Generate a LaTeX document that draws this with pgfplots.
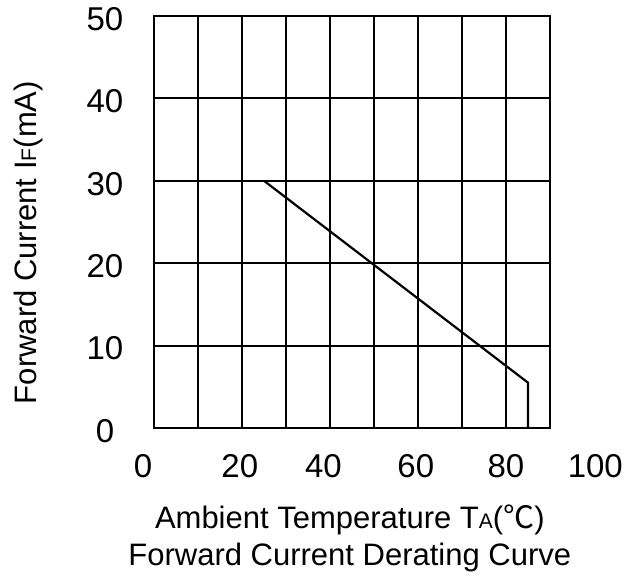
\documentclass[border=0pt]{standalone}
\usepackage{pgfplots}
\pgfplotsset{compat=1.18}
\usepackage{fontspec}
\setmainfont{Liberation Sans}
\newfontfamily\cjk{Noto Sans CJK SC}
\newcommand{\tickfont}{\fontsize{33}{33}\selectfont}
\newcommand{\labfont}{\fontsize{31}{34}\selectfont}
\newcommand{\smallc}[1]{{\fontsize{21}{21}\selectfont #1}}
\begin{document}
\begin{tikzpicture}
\begin{axis}[
  scale only axis,
  width=396pt, height=412pt,
  xmin=0, xmax=90,
  ymin=0, ymax=50,
  xtick={0,10,...,90},
  ytick={0,10,...,50},
  xticklabels={},
  grid=major,
  grid style={line width=1.9pt, draw=black},
  axis line style={line width=2.6pt},
  major tick length=0pt,
  /pgf/number format/assume math mode=true,
  yticklabel style={font=\tickfont, anchor=center, xshift=-49pt, yshift=-3pt},
  clip=false,
]
  \addplot [black, line width=2.2pt, mark=none] coordinates {
    (25, 30)
    (85, 5.5)
    (85, 0)
  };
  % x tick labels (100 lies beyond the right edge of the frame)
  \node[font=\tickfont] at (axis cs:-2.5,0) [yshift=-38pt] {0};
  \node[font=\tickfont] at (axis cs:19.5,0) [yshift=-38pt] {20};
  \node[font=\tickfont] at (axis cs:38.5,0) [yshift=-38pt] {40};
  \node[font=\tickfont] at (axis cs:59.5,0) [yshift=-38pt] {60};
  \node[font=\tickfont] at (axis cs:80,0) [yshift=-38pt] {80};
  \node[font=\tickfont] at (axis cs:100.3,0) [yshift=-38pt] {100};
  \node[font=\labfont] at (axis cs:44.5,0) [yshift=-92pt]
    {Ambient Temperature T\smallc{A}({\cjk ℃})};
  \node[font=\labfont] at (axis cs:44.5,0) [yshift=-129pt]
    {Forward Current Derating Curve};
  \node[font=\labfont, xshift=-126pt, rotate=90] at (rel axis cs:0,0.45)
    {Forward Current I\smallc{F}(mA)};
  \path (rel axis cs:0,0) ++(-154pt,-150pt) rectangle ++(629pt,578pt);
\end{axis}
\end{tikzpicture}
\end{document}
